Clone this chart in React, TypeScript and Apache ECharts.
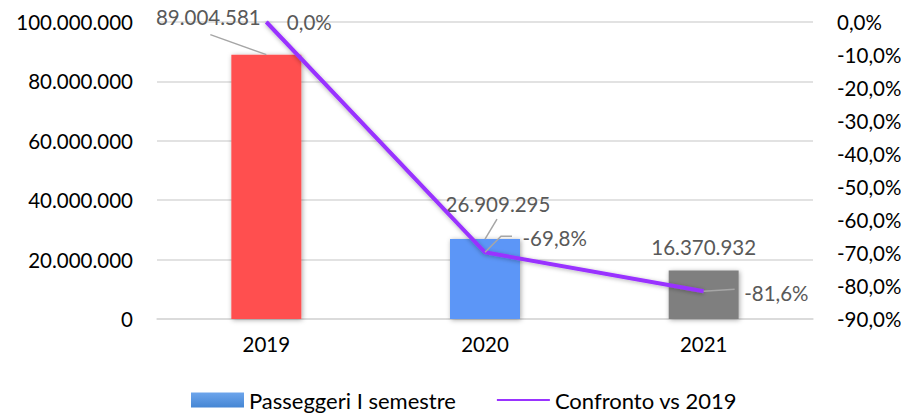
import React, { useEffect, useRef } from "react";
import * as echarts from "echarts";

const categories = ["2019", "2020", "2021"];
const passeggeri = [89004581, 26909295, 16370932];
const confronto = [0.0, -69.8, -81.6];
const barColors = ["#FF5050", "#5B96F7", "#7F7F7F"];

const fmtInt = (v: number) =>
  Math.round(v).toString().replace(/\B(?=(\d{3})+(?!\d))/g, ".");
const fmtPct = (v: number) => v.toFixed(1).replace(".", ",") + "%";

const FONT = "Lato";
const FS = 20.5;
const LEADER = "#A6A6A6";

export default function App() {
  const ref = useRef<HTMLDivElement>(null);
  useEffect(() => {
    const chart = echarts.init(ref.current!, null, { renderer: "svg" });
    // label offsets (dx, dy) relative to default label position
    const barOffsets = [
      [-58, -22],
      [13, -20],
      [0, -8],
    ];
    const lineOffsets = [
      [15, 0],
      [32, -14],
      [35, 2],
    ];
    // leader-line bends (pixel offsets from the data point), null = no leader
    const barLeaders: (number[][] | null)[] = [
      [[-56, -20]],
      [[12, -20]],
      null,
    ];
    const lineLeaders: (number[][] | null)[] = [
      null,
      [[16, -16], [27, -16]],
      [[31, -2]],
    ];
    const leaderItem = (leaders: (number[][] | null)[]) => (params: any, api: any) => {
      const i = params.dataIndex;
      const segs = leaders[i];
      if (!segs) return null;
      const p = api.coord([api.value(0), api.value(1)]);
      const pts = [p, ...segs.map((o) => [p[0] + o[0], p[1] + o[1]])];
      return {
        type: "polyline",
        shape: { points: pts },
        style: { stroke: LEADER, lineWidth: 1.5, fill: null },
        z2: 10,
      };
    };
    const option = {
      animation: false,
      textStyle: { fontFamily: FONT },
      grid: { left: 157, right: 96, top: 22, bottom: 95 },
      legend: {
        top: 389,
        left: 191,
        padding: 0,
        itemGap: 40,
        itemWidth: 53,
        itemHeight: 15,
        textStyle: { fontSize: 22, color: "#000", fontFamily: FONT },
        data: [
          { name: "Passeggeri I semestre", icon: "rect" },
          { name: "Confronto vs 2019", itemStyle: { opacity: 0 } },
        ],
      },
      xAxis: {
        type: "category",
        data: categories,
        axisTick: { show: false },
        axisLine: { lineStyle: { color: "#D9D9D9", width: 1.5 } },
        axisLabel: { fontSize: FS, color: "#000", margin: 14, fontFamily: FONT },
      },
      yAxis: [
        {
          type: "value",
          min: 0,
          max: 100000000,
          interval: 20000000,
          axisLabel: {
            fontSize: FS,
            color: "#000",
            margin: 24,
            fontFamily: FONT,
            formatter: (v: number) => fmtInt(v),
          },
          splitLine: { lineStyle: { color: "#D9D9D9", width: 1.5 } },
          axisLine: { show: false },
          axisTick: { show: false },
        },
        {
          type: "value",
          min: -90,
          max: 0,
          interval: 10,
          axisLabel: {
            fontSize: FS,
            color: "#000",
            margin: 24,
            fontFamily: FONT,
            formatter: (v: number) => fmtPct(v),
          },
          splitLine: { show: false },
          axisLine: { show: false },
          axisTick: { show: false },
        },
      ],
      series: [
        {
          name: "Passeggeri I semestre",
          type: "bar",
          yAxisIndex: 0,
          barWidth: "32%",
          itemStyle: {
            color: new echarts.graphic.LinearGradient(0, 0, 0, 1, [
              { offset: 0, color: "#6DA5EC" },
              { offset: 1, color: "#4586D4" },
            ]),
            shadowBlur: 5,
            shadowColor: "rgba(0,0,0,0.35)",
            shadowOffsetX: 1,
            shadowOffsetY: 1,
          },
          data: passeggeri.map((v, i) => ({
            value: v,
            itemStyle: { color: barColors[i] },
          })),
          label: {
            show: true,
            position: "top",
            fontSize: FS,
            color: "#595959",
            fontFamily: FONT,
            formatter: (p: any) => fmtInt(p.value),
          },
          labelLayout: (p: any) => {
            const [dx, dy] = barOffsets[p.dataIndex];
            return { dx, dy };
          },
        },
        {
          name: "barLeaders",
          type: "custom",
          yAxisIndex: 0,
          z: 3,
          silent: true,
          data: passeggeri.map((v, i) => [i, v]),
          renderItem: leaderItem(barLeaders),
        },
        {
          name: "Confronto vs 2019",
          type: "line",
          yAxisIndex: 1,
          z: 4,
          symbol: "circle",
          symbolSize: 1,
          showSymbol: true,
          itemStyle: { color: "#9933FF" },
          lineStyle: {
            color: "#9933FF",
            width: 4,
            shadowBlur: 4,
            shadowColor: "rgba(0,0,0,0.3)",
            shadowOffsetY: 1,
          },
          data: confronto,
          label: {
            show: true,
            position: "right",
            fontSize: FS,
            color: "#595959",
            fontFamily: FONT,
            formatter: (p: any) => fmtPct(p.value),
          },
          labelLayout: (p: any) => {
            const [dx, dy] = lineOffsets[p.dataIndex];
            return { dx, dy };
          },
        },
        {
          name: "lineLeaders",
          type: "custom",
          yAxisIndex: 1,
          z: 5,
          silent: true,
          data: confronto.map((v, i) => [i, v]),
          renderItem: leaderItem(lineLeaders),
        },
      ],
    };
    chart.setOption(option);
    return () => chart.dispose();
  }, []);
  return <div ref={ref} style={{ width: 909, height: 414, marginLeft: -8, marginTop: -8 }} />;
}
